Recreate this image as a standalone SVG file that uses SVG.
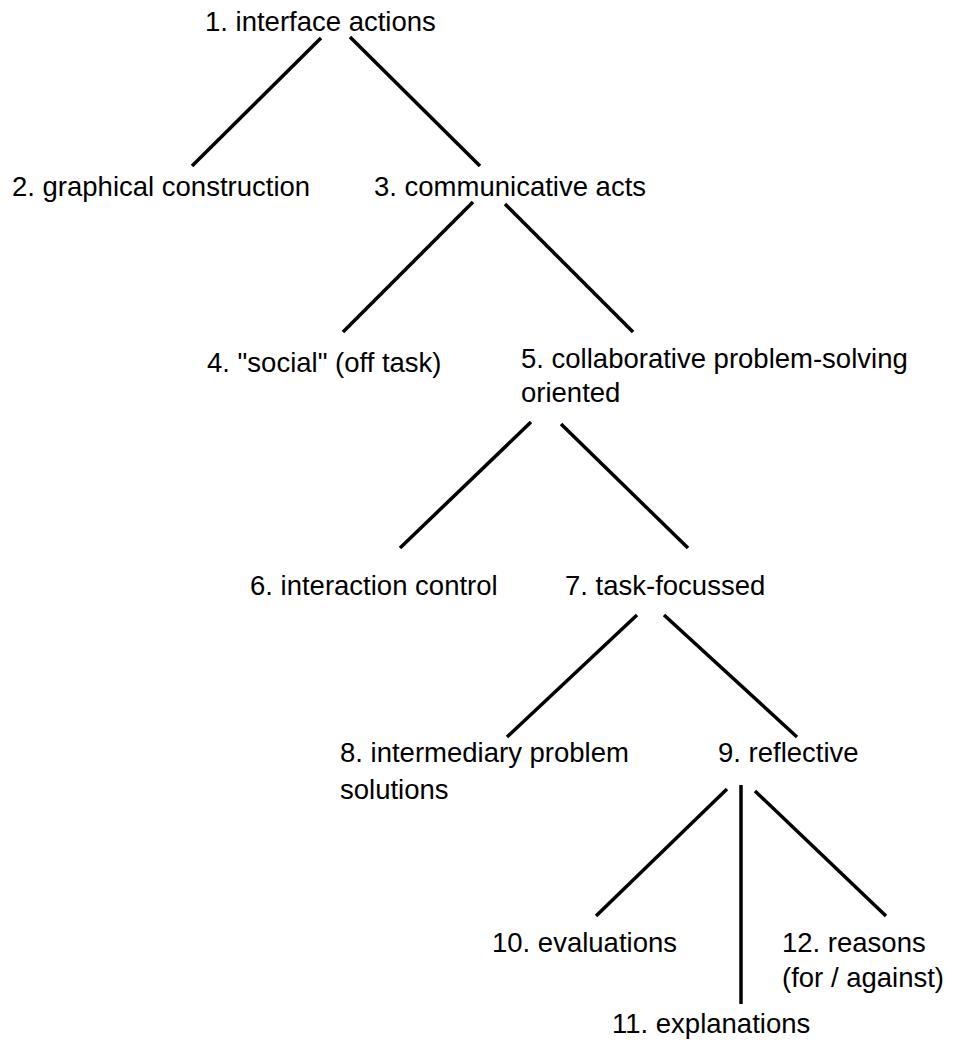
<svg xmlns="http://www.w3.org/2000/svg" width="956" height="1043" viewBox="0 0 956 1043">
<style>
text{font-family:"Liberation Sans",Arial,sans-serif;font-size:27.5px;fill:#000}
.e{stroke:#000;stroke-width:3.5;fill:none}
</style>
<rect width="956" height="1043" fill="#fff"/>
<g id="connectors">
<line class="e" x1="321" y1="38" x2="192" y2="166"/>
<line class="e" x1="350" y1="37" x2="480" y2="166"/>
<line class="e" x1="473" y1="202" x2="343" y2="332"/>
<line class="e" x1="505" y1="204" x2="633" y2="332"/>
<line class="e" x1="531" y1="422" x2="400" y2="548"/>
<line class="e" x1="561" y1="424" x2="688" y2="548"/>
<line class="e" x1="637" y1="615" x2="507" y2="737"/>
<line class="e" x1="664" y1="615" x2="797" y2="737"/>
<line class="e" x1="727" y1="789" x2="596" y2="916"/>
<line class="e" x1="741" y1="785" x2="741" y2="1004"/>
<line class="e" x1="755" y1="791" x2="886" y2="916"/>
</g>
<g id="n1"><text x="205" y="31">1. interface actions</text></g>
<g id="n2"><text x="12" y="196">2. graphical construction</text></g>
<g id="n3"><text x="374" y="196">3. communicative acts</text></g>
<g id="n4"><text x="207" y="372">4. "social" (off task)</text></g>
<g id="n5"><text x="521" y="368">5. collaborative problem-solving</text><text x="521" y="402">oriented</text></g>
<g id="n6"><text x="250" y="595">6. interaction control</text></g>
<g id="n7"><text x="565" y="595">7. task-focussed</text></g>
<g id="n8"><text x="340" y="762">8. intermediary problem</text><text x="340" y="799">solutions</text></g>
<g id="n9"><text x="718" y="762">9. reflective</text></g>
<g id="n10"><text x="492" y="952">10. evaluations</text></g>
<g id="n11"><text x="612" y="1033">11. explanations</text></g>
<g id="n12"><text x="782" y="952">12. reasons</text><text x="782" y="987">(for / against)</text></g>
</svg>
